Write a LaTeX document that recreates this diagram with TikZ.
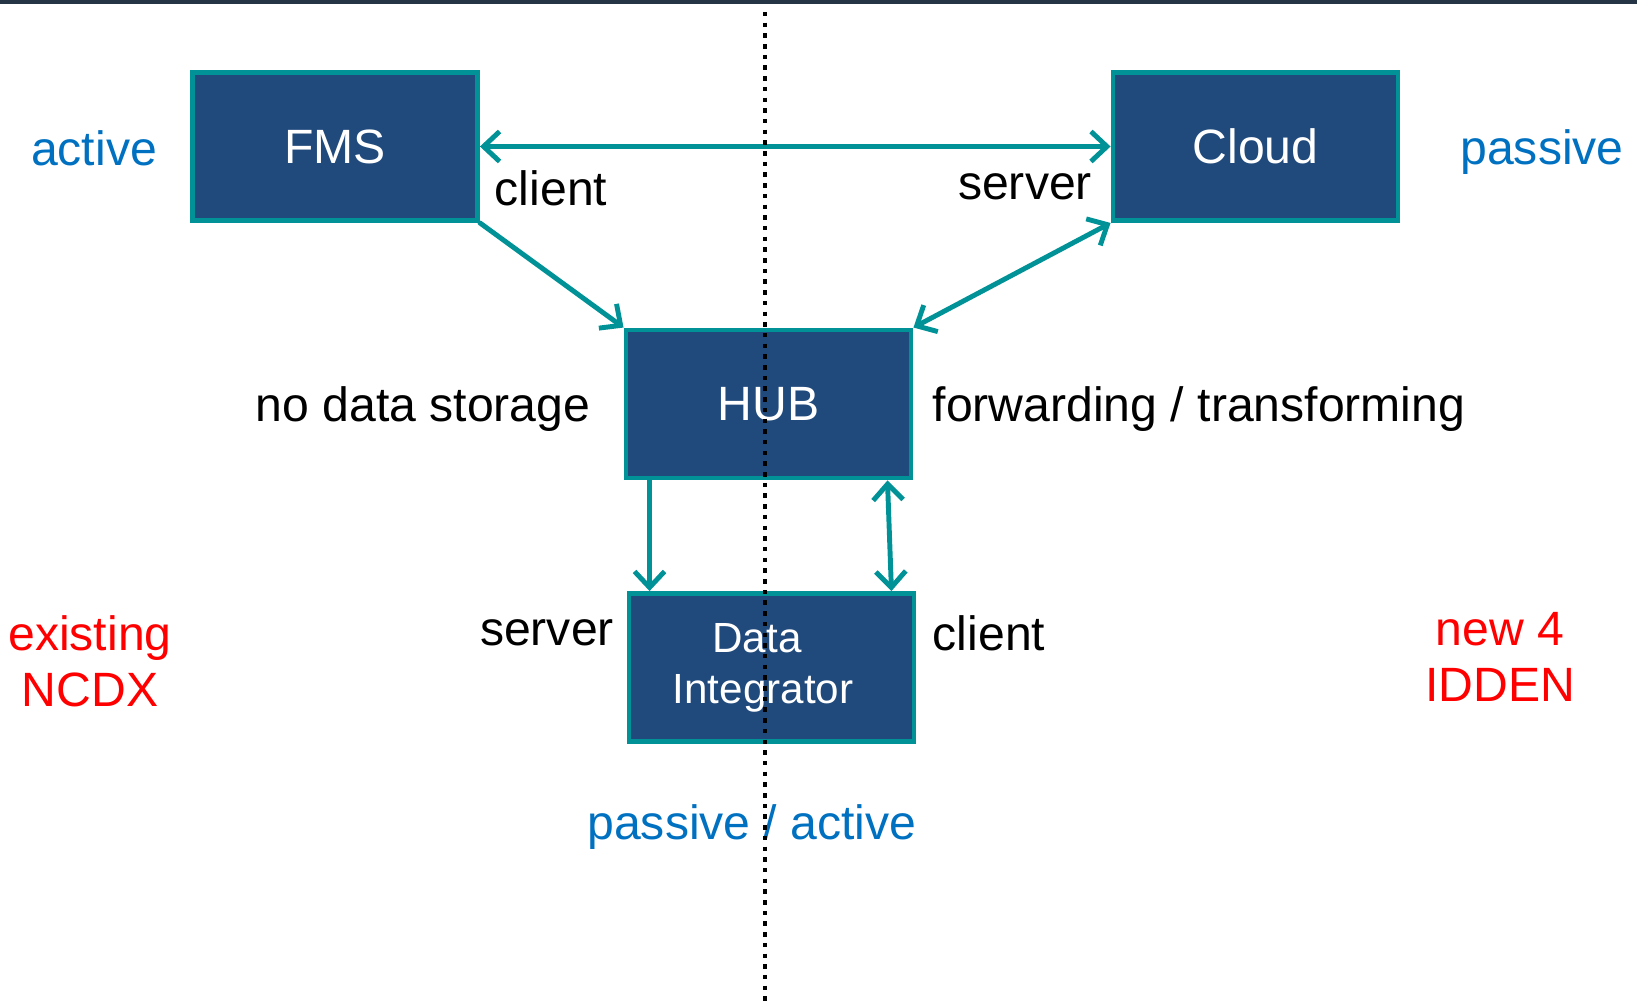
\documentclass[tikz,border=0pt]{standalone}
\usepackage{fontspec}
\setmainfont{Liberation Sans}
\usepackage{tikz}
\usetikzlibrary{arrows.meta}

\definecolor{boxblue}{RGB}{32,74,124}
\definecolor{teal}{RGB}{0,146,150}
\definecolor{lblblue}{RGB}{0,112,192}
\definecolor{topbar}{RGB}{38,53,69}

\tikzset{
  sysbox/.style={draw=teal,line width=1.4pt,fill=boxblue,text=white,
    minimum width=2.85cm,minimum height=1.48cm,align=center,
    font=\fontsize{13.7}{15}\selectfont},
  lbl/.style={font=\fontsize{13.7}{16}\selectfont,align=center},
  link/.style={teal,line width=1.4pt,line cap=round},
  tip/.tip={Straight Barb[length=0.16cm,width=0.3cm]}
}

\begin{document}
\begin{tikzpicture}
\useasboundingbox (0,0) rectangle (16.37,-10.05);
\fill[topbar] (0,0) rectangle (16.37,-0.04);

\node[sysbox] (FMS) at (3.35,-1.465) {FMS};
\node[sysbox] (Cloud) at (12.555,-1.465) {Cloud};
\node[sysbox] (HUB) at (7.685,-4.04) {HUB};
\node[sysbox,font=\fontsize{12}{14.5}\selectfont] (DI) at (7.715,-6.675)
  {Data\hspace*{0.29cm}\\Integrator\hspace*{0.17cm}};

\draw [link,tip-tip] (FMS.east) -- (Cloud.west);
\draw [link,-tip] (FMS.south east) -- (HUB.north west);
\draw [link,tip-tip] (Cloud.south west) -- (HUB.north east);
\draw [link,-tip] ([xshift=0.26cm]HUB.south west) -- ([xshift=0.23cm]DI.north west);
\draw [link,tip-tip] ([xshift=-0.26cm]HUB.south east) -- ([xshift=-0.25cm]DI.north east);

\node[lbl,text=lblblue] (act) at (0.94,-1.48) {active};
\node[lbl,text=lblblue] (pas) at (15.42,-1.52) {passive};
\node[lbl] (cl1) at (5.51,-1.88) {client};
\node[lbl] (sv1) at (10.25,-1.87) {server};
\node[lbl] (nds) at (4.23,-4.09) {no data storage};
\node[lbl] (fwd) at (11.99,-4.09) {forwarding / transforming};
\node[lbl,text=red] (exi) at (0.90,-6.61) {existing\\NCDX};
\node[lbl] (sv2) at (5.47,-6.33) {server};
\node[lbl] (cl2) at (9.89,-6.33) {client};
\node[lbl,text=red] (new) at (15.00,-6.57) {new 4\\IDDEN};
\node[lbl,text=lblblue] (pa) at (7.52,-8.27) {passive / active};

\draw [line width=1.3pt,dash pattern=on 0.045cm off 0.062cm] (7.65,-0.12) -- (7.65,-10.05);
\end{tikzpicture}
\end{document}
